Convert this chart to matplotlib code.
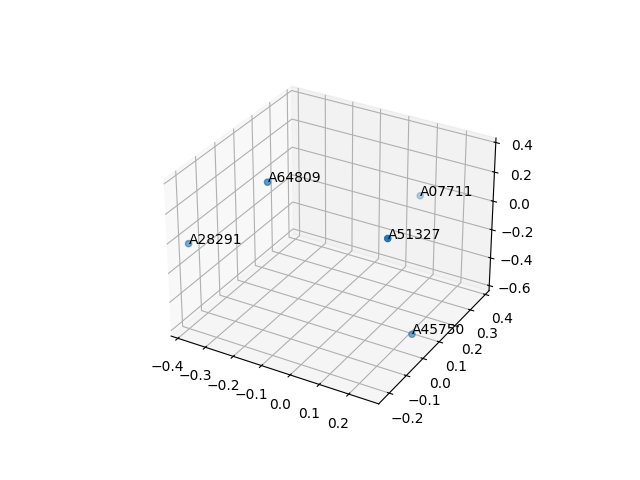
import matplotlib
matplotlib.use('Agg')
import matplotlib.pyplot as plt

# points
labels = ['A07711', 'A28291', 'A45750', 'A51327', 'A64809']
xs = [0.06, -0.39, 0.261, 0.270, -0.173]
ys = [0.40, -0.20, 0.00, -0.17, -0.10]
zs = [-0.067, -0.038, -0.492, 0.340, 0.391]

fig = plt.figure()
ax = fig.add_subplot(projection='3d')
ax.scatter(xs, ys, zs)
for i in range(len(labels)):
    ax.text(xs[i], ys[i], zs[i], labels[i])

ax.set_xlim(-0.425, 0.30)
ax.set_ylim(-0.26, 0.425)
ax.set_zlim(-0.637, 0.43)
ax.set_xticks([-0.4, -0.3, -0.2, -0.1, 0.0, 0.1, 0.2])
ax.set_yticks([-0.2, -0.1, 0.0, 0.1, 0.2, 0.3, 0.4])
ax.set_zticks([-0.6, -0.4, -0.2, 0.0, 0.2, 0.4])

plt.savefig('out.png')
